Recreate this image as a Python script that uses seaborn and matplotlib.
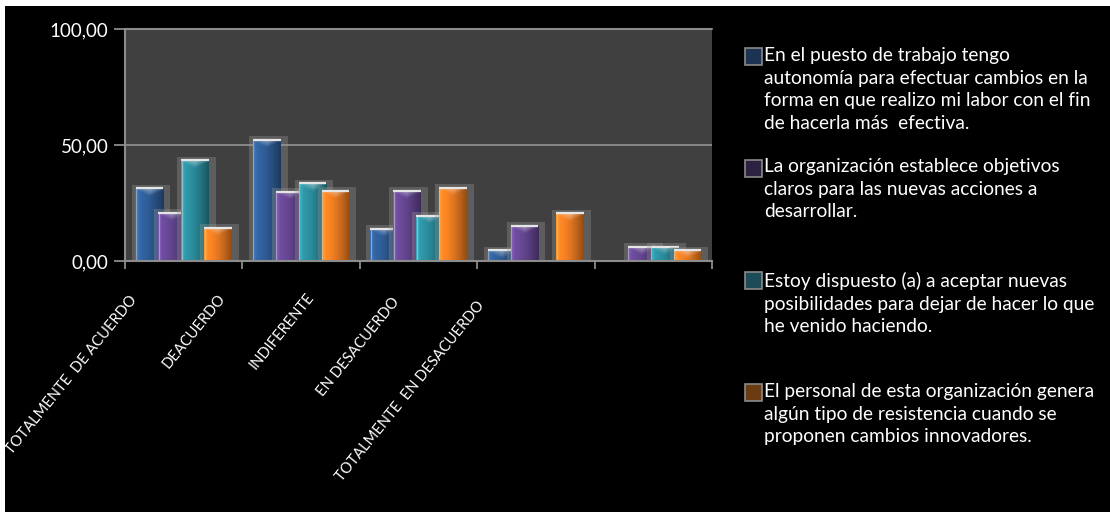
import numpy as np
import pandas as pd
import matplotlib
matplotlib.use("Agg")
import matplotlib.pyplot as plt
import seaborn as sns
from matplotlib.patches import Rectangle
from matplotlib.colors import to_rgb
from matplotlib.transforms import ScaledTranslation

# ---- data -------------------------------------------------------------
categories = ["TOTALMENTE  DE ACUERDO", "DEACUERDO", "INDIFERENTE",
              "EN DESACUERDO", "TOTALMENTE  EN DESACUERDO"]
series_names = [
    "En el puesto de trabajo tengo\nautonomía para efectuar cambios en la\n"
    "forma en que realizo mi labor con el fin\nde hacerla más  efectiva.",
    "La organización establece objetivos\nclaros para las nuevas acciones a\ndesarrollar.",
    "Estoy dispuesto (a) a aceptar nuevas\nposibilidades para dejar de hacer lo que\nhe venido haciendo.",
    "El personal de esta organización genera\nalgún tipo de resistencia cuando se\nproponen cambios innovadores.",
]
autonomia = [31.3, 52.2, 13.8, 4.7, 0.0]
objetivos = [20.8, 29.9, 30.3, 15.1, 6.2]
disposicion = [43.5, 33.5, 19.5, 0.0, 6.2]
resistencia = [14.4, 30.3, 31.5, 20.6, 4.7]
ytick_values = [0, 50, 100]
ytick_labels = ["0,00", "50,00", "100,00"]

bar_colors = ["#2f5d96", "#654691", "#2b8c9c", "#ec7c22"]
legend_colors = ["#1d3352", "#2b2242", "#1d4b58", "#6b3c14"]

values = [autonomia, objetivos, disposicion, resistencia]
df = pd.DataFrame({
    "categoria": categories * len(series_names),
    "serie": [s for s in series_names for _ in categories],
    "valor": [v for vals in values for v in vals],
})

# ---- figure -----------------------------------------------------------
W, H = 1110, 512
FONT = "Lato"
sns.set_theme(style="white")
plt.rcParams["font.family"] = [FONT, "DejaVu Sans"]

fig = plt.figure(figsize=(W / 100, H / 100), dpi=100, facecolor="white")
fig.add_artist(Rectangle((5 / W, 0), 1 - 5 / W, 1 - 6 / H, transform=fig.transFigure,
                         facecolor="black", edgecolor="none", zorder=-10))

left, right, top, bottom = 125, 712, 29, 261
ax = fig.add_axes([left / W, 1 - bottom / H, (right - left) / W, (bottom - top) / H])
ax.set_facecolor("#404040")

sns.barplot(data=df, x="categoria", y="valor", hue="serie", order=categories,
            hue_order=series_names, palette=bar_colors, width=0.78,
            legend=False, ax=ax, saturation=1)

ax.set_xlim(-0.5, 4.5)
ax.set_ylim(0, 100)
ax.set_xlabel("")
ax.set_ylabel("")

# pixel sizes in data units
px_x = 5.0 / (right - left)
px_y = 100.0 / (bottom - top)

n_cat = len(categories)
bar_w = 0.235
for idx, patch in enumerate(list(ax.patches)):
    k = idx // n_cat
    color = bar_colors[k]
    h = patch.get_height()
    cx = patch.get_x() + patch.get_width() / 2
    patch.set_x(cx - bar_w / 2)
    patch.set_width(bar_w)
    patch.set_edgecolor("none")
    patch.set_zorder(3 + 2 * k)
    if h <= 0:
        patch.set_visible(False)
        continue
    x0 = cx - bar_w / 2
    # translucent frame behind each bar
    ax.add_patch(Rectangle((x0 - 4 * px_x, 0), bar_w + 11 * px_x, h + 3.5 * px_y,
                           facecolor="#9a9a9a", alpha=0.33, edgecolor="none",
                           zorder=2 + 2 * k))
    # glossy shading clipped to the bar
    pw = max(int(round(bar_w / px_x)), 2)
    ph = max(int(round(h / px_y)), 2)
    u = np.linspace(0, 1, pw)[None, :]
    dy = np.arange(ph)[:, None].astype(float)
    base = np.array(to_rgb(color))
    shade = 1.12 - 0.5 * u ** 1.6
    shade = shade + 0.12 * np.exp(-((u - 0.05) / 0.06) ** 2)
    img = np.clip(base[None, None, :] * shade[..., None], 0, 1) * np.ones((ph, 1, 1))
    hl = np.clip(1 - dy / 8.0 - np.abs(u - 0.5) * 1.6, 0, 1) * 0.45
    img = img * (1 - hl[..., None]) + hl[..., None]
    im = ax.imshow(img, extent=(x0, x0 + bar_w, 0, h), origin="upper",
                   aspect="auto", interpolation="bilinear", zorder=3.5 + 2 * k)
    im.set_clip_path(patch)
    ax.plot([x0, x0 + bar_w], [h, h], color="#e6e6e6", lw=1.6,
            solid_capstyle="butt", zorder=3.8 + 2 * k)
    ax.plot([x0 + 0.4 * px_x] * 2, [0, h], color="#d0d0d0", lw=0.9, alpha=0.55,
            zorder=3.8 + 2 * k)

ax.set_xlim(-0.5, 4.5)
ax.set_ylim(0, 100)

# axes styling
for s in ["top", "right"]:
    ax.spines[s].set_visible(False)
for s in ["left", "bottom"]:
    ax.spines[s].set_color("#8c8c8c")
    ax.spines[s].set_linewidth(1.5)
    ax.spines[s].set_zorder(20)
ax.axhline(50, color="#8c8c8c", lw=1.3, zorder=1)
ax.axhline(100, color="#8c8c8c", lw=1.5, zorder=1, clip_on=False)

ax.set_yticks(ytick_values, ytick_labels)
ax.tick_params(axis="y", length=8, width=1.3, color="#8c8c8c", labelcolor="white",
               labelsize=13.5, pad=4, left=True)

ax.set_xticks(np.arange(-0.5, 5.0, 1.0), minor=True)
ax.tick_params(axis="x", which="minor", length=6, width=1.3, color="#8c8c8c", bottom=True)
ax.set_xticks(range(n_cat), categories)
ax.tick_params(axis="x", which="major", length=0, pad=0, labelsize=10.5)

# rotated category labels, anchored at their right end
label_ends = [(134, 297), (223, 296), (311, 295), (397, 299), (482, 303)]
for i, lab in enumerate(ax.get_xticklabels()):
    cx_px = left + (i + 0.5) * (right - left) / n_cat
    ex, ey = label_ends[i]
    lab.set_rotation(51)
    lab.set_rotation_mode("anchor")
    lab.set_ha("right")
    lab.set_va("center")
    lab.set_color("white")
    lab.set_transform(lab.get_transform() +
                      ScaledTranslation((ex - cx_px) / 100, -(ey - bottom) / 100,
                                        fig.dpi_scale_trans))

# legend on the right
entry_tops = [47, 158, 272, 383]
marker_tops = [48, 160, 272, 384]
for name, col, top_y, mtop in zip(series_names, legend_colors, entry_tops, marker_tops):
    fig.add_artist(Rectangle((745 / W, 1 - (mtop + 17) / H), 17 / W, 17 / H,
                             transform=fig.transFigure, facecolor=col,
                             edgecolor="#8a8a8a", lw=1.2))
    fig.text(764 / W, 1 - top_y / H, name, color="white", fontsize=13.8,
             va="top", ha="left", linespacing=1.4, family=[FONT, "DejaVu Sans"])

fig.savefig("out.png", dpi=100, facecolor=fig.get_facecolor())
